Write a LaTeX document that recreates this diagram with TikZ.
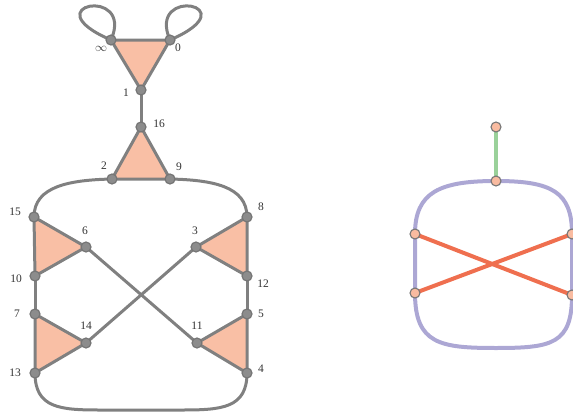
\documentclass[tikz,border=0pt]{standalone}
\usepackage{fontspec}
\setmainfont{Liberation Serif}
\definecolor{edgegray}{HTML}{808080}
\definecolor{nodegray}{HTML}{8C8C8C}
\definecolor{ringgray}{HTML}{767676}
\definecolor{tri}{HTML}{F9BFA5}
\definecolor{pnode}{HTML}{F9BBA0}
\definecolor{purp}{HTML}{ACA7D4}
\definecolor{redl}{HTML}{EF6F4F}
\definecolor{greenl}{HTML}{9AD19A}
\tikzset{
  gv/.style={circle,fill=nodegray,draw=ringgray,line width=1.2pt,minimum size=10pt,inner sep=0pt},
  pv/.style={circle,fill=pnode,draw=ringgray,line width=1.1pt,minimum size=10pt,inner sep=0pt},
  ge/.style={draw=edgegray,line width=3pt,line cap=round,line join=round},
  trif/.style={ge,fill=tri},
  lab/.style={inner sep=0pt,font=\fontsize{11.5}{13}\selectfont,text=black!80},
  pe/.style={draw=purp,line width=4pt},
  re/.style={draw=redl,line width=4pt},
  gre/.style={draw=greenl,line width=4pt},
}
\begin{document}
\begin{tikzpicture}[x=1pt,y=-1pt]
\useasboundingbox (0,0) rectangle (573,415);
% left graph coordinates
\coordinate (ninf) at (111,40);
\coordinate (n0) at (170,40);
\coordinate (n1) at (141,90);
\coordinate (n16) at (141,127);
\coordinate (n2) at (112,179);
\coordinate (n9) at (170,179);
\coordinate (n15) at (34,217);
\coordinate (n6) at (86,247);
\coordinate (n10) at (35,276);
\coordinate (n7) at (35,314);
\coordinate (n14) at (86,343);
\coordinate (n13) at (35,373);
\coordinate (n8) at (247,217);
\coordinate (n3) at (196,247);
\coordinate (n12) at (247,276);
\coordinate (n5) at (247,314);
\coordinate (n11) at (197,343);
\coordinate (n4) at (247,373);
% loops
\draw[ge] (ninf) .. controls (30,5) and (135,-15) .. (ninf);
\draw[ge] (n0) .. controls (251,5) and (146,-15) .. (n0);
% outer curves
\draw[ge] (n15) .. controls (34,186) and (70,180) .. (n2);
\draw[ge] (n9) .. controls (212,180) and (247,186) .. (n8);
\draw[ge] (n13) .. controls (35,408) and (60,410) .. (100,410) -- (182,410) .. controls (222,410) and (247,408) .. (n4);
% plain edges
\draw[ge] (n1) -- (n16);
\draw[ge] (n10) -- (n7);
\draw[ge] (n12) -- (n5);
\draw[ge] (n6) -- (n11);
\draw[ge] (n3) -- (n14);
% triangles
\filldraw[trif] (ninf) -- (n0) -- (n1) -- cycle;
\filldraw[trif] (n16) -- (n2) -- (n9) -- cycle;
\filldraw[trif] (n15) -- (n6) -- (n10) -- cycle;
\filldraw[trif] (n7) -- (n14) -- (n13) -- cycle;
\filldraw[trif] (n8) -- (n3) -- (n12) -- cycle;
\filldraw[trif] (n5) -- (n11) -- (n4) -- cycle;
% vertices
\foreach \v in {inf,0,1,16,2,9,15,6,10,7,14,13,8,3,12,5,11,4}
  \node[gv] (v\v) at (n\v) {};
% labels
\node[lab] (linf) at (101,49) {$\infty$};
\node[lab] (l0) at (178,48) {0};
\node[lab] (l1) at (126,93) {1};
\node[lab] (l16) at (159,124) {16};
\node[lab] (l2) at (104,166) {2};
\node[lab] (l9) at (179,167) {9};
\node[lab] (l15) at (15,212) {15};
\node[lab] (l6) at (85,231) {6};
\node[lab] (l10) at (16,279) {10};
\node[lab] (l7) at (17,314) {7};
\node[lab] (l14) at (86,326) {14};
\node[lab] (l13) at (15,373) {13};
\node[lab] (l8) at (261,207) {8};
\node[lab] (l3) at (195,231) {3};
\node[lab] (l12) at (263,284) {12};
\node[lab] (l5) at (261,314) {5};
\node[lab] (l11) at (197,326) {11};
\node[lab] (l4) at (261,369) {4};
% right graph
\coordinate (rt) at (496,127);
\coordinate (rm) at (496,181);
\coordinate (rlu) at (415,234);
\coordinate (rll) at (415,293);
\coordinate (rru) at (572,234);
\coordinate (rrl) at (572,295);
\draw[gre] (rt) -- (rm);
\draw[pe] (rm) .. controls (440,181) and (415,192) .. (rlu) -- (rll)
  .. controls (415,344) and (440,348) .. (496,348)
  .. controls (552,348) and (572,344) .. (rrl) -- (rru)
  .. controls (572,192) and (552,181) .. (rm);
\draw[re] (rlu) -- (rrl);
\draw[re] (rll) -- (rru);
\foreach \v in {rt,rm,rlu,rll,rru,rrl}
  \node[pv] (p\v) at (\v) {};
\end{tikzpicture}
\end{document}
